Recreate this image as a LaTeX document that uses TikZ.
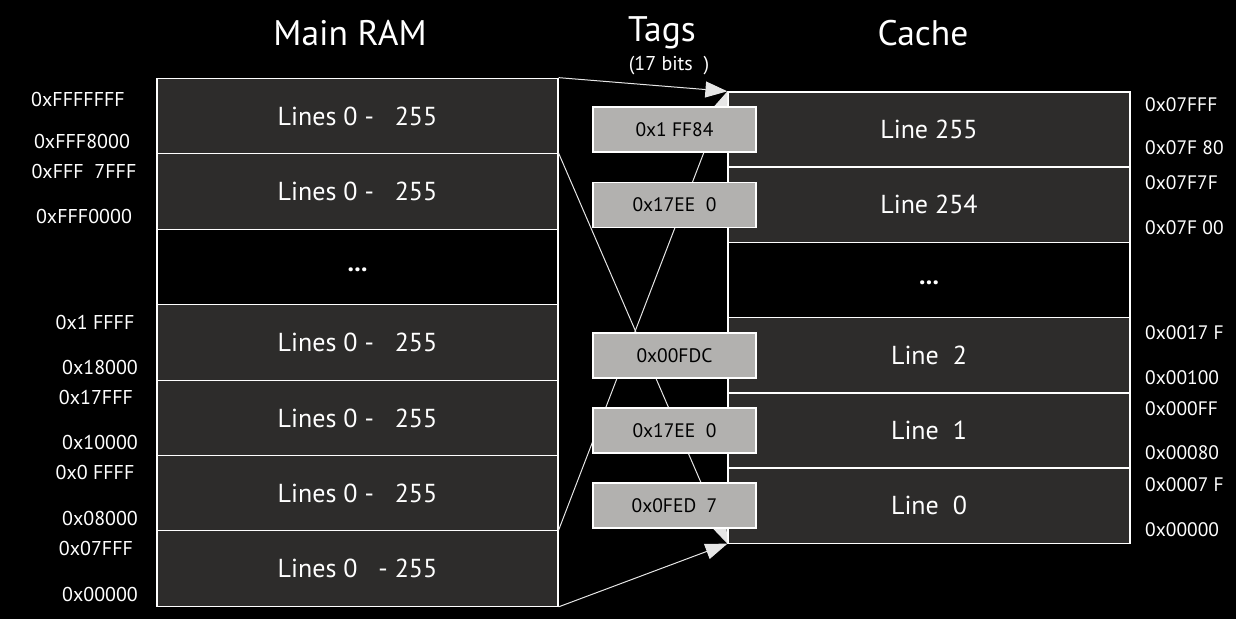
\documentclass[tikz,border=0pt]{standalone}
\usepackage{fontspec}
\setmainfont{PT Sans}
\usetikzlibrary{arrows.meta}
\definecolor{rowfill}{HTML}{2D2C2B}
\definecolor{tagfill}{HTML}{B2B1AF}
\definecolor{linecol}{HTML}{E6E6E6}
\begin{document}
\begin{tikzpicture}[x=1pt,y=-1pt,
  ramrow/.style={draw=white, line width=1.2pt, fill=rowfill, minimum width=401pt, minimum height=75.5pt, inner sep=0pt, text=white, font=\fontsize{26}{26}\selectfont},
  gaprow/.style={ramrow, fill=black},
  cacherow/.style={ramrow, minimum width=402pt, minimum height=75.2pt},
  cachegap/.style={cacherow, fill=black},
  tagbox/.style={draw=white, line width=1.2pt, fill=tagfill, minimum width=163pt, minimum height=45pt, inner sep=0pt, text=black, font=\fontsize{19.5}{19.5}\selectfont},
  laddr/.style={text=white, inner sep=0pt, font=\fontsize{20}{20}\selectfont},
  raddr/.style={laddr, anchor=west, font=\fontsize{19.5}{19.5}\selectfont},
  title/.style={text=white, inner sep=0pt, font=\fontsize{35.5}{35.5}\selectfont},
  conn/.style={draw=linecol, line width=1pt, -{Triangle[length=22pt,width=16pt,fill=linecol]}}
]
\fill[black] (0,0) rectangle (1236,619);
\useasboundingbox (0,0) rectangle (1236,619);

% titles
\node[title] (tmain) at (350,33) {Main RAM};
\node[title] (ttags) at (662,33) {Tags};
\node[text=white, inner sep=0pt, font=\fontsize{20}{20}\selectfont] (tbits) at (669,66) {(17 bits\ \ )};
\node[title] (tcache) at (923,33) {Cache};

% main RAM
\node[ramrow] (ram1) at (357.5,116) {Lines 0 -\ \ \ 255};
\node[ramrow] (ram2) at (357.5,191.5) {Lines 0 -\ \ \ 255};
\node[gaprow] (ram3) at (357.5,267) {\raisebox{-9pt}{\textbf{...}}};
\node[ramrow] (ram4) at (357.5,342.5) {Lines 0 -\ \ \ 255};
\node[ramrow] (ram5) at (357.5,418) {Lines 0 -\ \ \ 255};
\node[ramrow] (ram6) at (357.5,493.5) {Lines 0 -\ \ \ 255};
\node[ramrow] (ram7) at (357.5,568.5) {Lines 0\ \ \ - 255};

% cache
\node[cacherow] (c1) at (929,129.5) {Line 255};
\node[cacherow] (c2) at (929,204.5) {Line 254};
\node[cachegap] (c3) at (929,279.7) {\raisebox{-9pt}{\textbf{...}}};
\node[cacherow] (c4) at (929,355) {Line\ \ 2};
\node[cacherow] (c5) at (929,430.5) {Line\ \ 1};
\node[cacherow] (c6) at (929,505.5) {Line\ \ 0};

% connectors
\draw[conn] (ram1.north east) -- (c1.north west);
\draw[conn] (ram7.north east) -- (c1.north west);
\draw[conn] (ram2.north east) -- (c6.south west);
\draw[conn] (ram7.south east) -- (c6.south west);

% tags
\node[tagbox] (g1) at (674.5,129.5) {0x1 FF84};
\node[tagbox] (g2) at (674.5,205) {0x17EE\ \ 0};
\node[tagbox] (g3) at (674.5,355.5) {0x00FDC};
\node[tagbox] (g4) at (674.5,430.5) {0x17EE\ \ 0};
\node[tagbox] (g5) at (674.5,505.5) {0x0FED\ \ 7};

% left addresses
\node[laddr] (a1) at (78,99) {0xFFFFFFF};
\node[laddr] (a2) at (82,141) {0xFFF8000};
\node[laddr] (a3) at (84,171) {0xFFF\ \ 7FFF};
\node[laddr] (a4) at (84,216) {0xFFF0000};
\node[laddr] (a5) at (95,322) {0x1 FFFF};
\node[laddr] (a6) at (100,367) {0x18000};
\node[laddr] (a7) at (96,397) {0x17FFF};
\node[laddr] (a8) at (100,442) {0x10000};
\node[laddr] (a9) at (95,472) {0x0 FFFF};
\node[laddr] (a10) at (100,518) {0x08000};
\node[laddr] (a11) at (96,548) {0x07FFF};
\node[laddr] (a12) at (100,594) {0x00000};

% right addresses
\node[raddr] (b1) at (1145,105) {0x07FFF};
\node[raddr] (b2) at (1145,148) {0x07F 80};
\node[raddr] (b3) at (1145,183) {0x07F7F};
\node[raddr] (b4) at (1145,228) {0x07F 00};
\node[raddr] (b5) at (1145,333) {0x0017 F};
\node[raddr] (b6) at (1145,378) {0x00100};
\node[raddr] (b7) at (1145,409) {0x000FF};
\node[raddr] (b8) at (1145,453) {0x00080};
\node[raddr] (b9) at (1145,485) {0x0007 F};
\node[raddr] (b10) at (1145,530) {0x00000};
\end{tikzpicture}
\end{document}
